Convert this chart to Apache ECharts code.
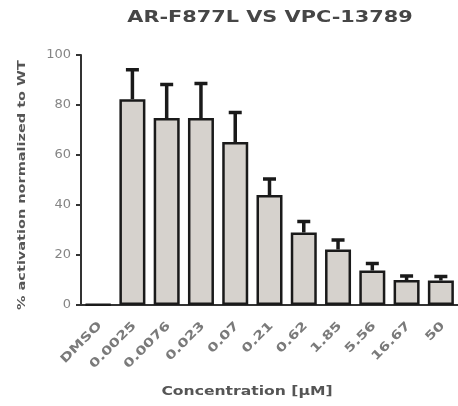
<!DOCTYPE html>
<html>
<head>
<meta charset="utf-8">
<script src="https://cdn.jsdelivr.net/npm/echarts@6/dist/echarts.min.js"></script>
<style>
  html, body { margin: 0; padding: 0; background: #fff; }
  #chart { width: 458px; height: 406px; }
</style>
</head>
<body>
<div id="chart"></div>
<script>
// Concentrations of VPC-13789 (µM), DMSO as vehicle control
const concentrations = ['DMSO', '0.0025', '0.0076', '0.023', '0.07', '0.21', '0.62', '1.85', '5.56', '16.67', '50'];
// Mean % activation normalized to WT
const activation = [0.3, 82.3, 74.8, 74.8, 65.2, 44.0, 29.0, 22.2, 13.8, 10.0, 9.8];
// Upper error (SD) above the mean
const errorUp = [0, 11.8, 13.4, 13.8, 11.8, 6.4, 4.4, 3.8, 2.8, 1.6, 1.6];
const yTicks = [0, 20, 40, 60, 80, 100];

const chartTitle = 'AR-F877L VS VPC-13789';
const xTitle = 'Concentration [µM]';
const yTitle = '% activation normalized to WT';

const chart = echarts.init(document.getElementById('chart'));

const errData = concentrations.map((c, i) => [i, activation[i], activation[i] + errorUp[i]]);

// wide, stretched bold lettering
function stretchedText(text, x, y, size, stretch, color, rotation, align) {
  return {
    type: 'text',
    x: x, y: y,
    rotation: rotation || 0,
    scaleX: stretch,
    style: {
      text: text,
      fontFamily: 'DejaVu Sans',
      fontWeight: 'bold',
      fontSize: size,
      fill: color,
      align: align || 'center',
      verticalAlign: 'middle'
    }
  };
}

const headings = [
  stretchedText(chartTitle, 270, 18, 16, 1.3, '#464646'),
  stretchedText(xTitle, 247, 392, 12, 1.3, '#555555'),
  stretchedText(yTitle, 22, 185, 10.5, 1.38, '#555555', Math.PI / 2)
];

chart.setOption({
  animation: false,
  backgroundColor: '#ffffff',
  graphic: headings,
  grid: { left: 81, top: 55, width: 384, height: 250, containLabel: false },
  xAxis: {
    type: 'category',
    data: concentrations,
    axisLine: { lineStyle: { color: '#333', width: 2 } },
    axisTick: { alignWithLabel: true, length: 5, lineStyle: { color: '#333', width: 2 } },
    axisLabel: { show: false }
  },
  yAxis: {
    type: 'value',
    min: 0,
    max: 100,
    interval: 20,
    splitLine: { show: false },
    axisLine: { show: true, lineStyle: { color: '#333', width: 2 } },
    axisTick: { show: true, length: 5, lineStyle: { color: '#333', width: 2 } },
    axisLabel: {
      margin: 10,
      fontFamily: 'DejaVu Sans',
      fontSize: 13,
      color: '#858585',
      formatter: v => yTicks.includes(v) ? String(v) : ''
    }
  },
  series: [
    {
      type: 'custom',
      z: 1,
      data: errData,
      renderItem: (params, api) => {
        const i = api.value(0);
        const top = api.coord([i, api.value(2)]);
        const base = api.coord([i, api.value(1)]);
        if (api.value(2) - api.value(1) <= 0) return null;
        const half = 6.5;
        return {
          type: 'group',
          children: [
            { type: 'line', shape: { x1: top[0], y1: top[1], x2: base[0], y2: base[1] },
              style: { stroke: '#1a1a1a', lineWidth: 3.5 } },
            { type: 'line', shape: { x1: top[0] - half, y1: top[1], x2: top[0] + half, y2: top[1] },
              style: { stroke: '#1a1a1a', lineWidth: 3.5 } }
          ]
        };
      }
    },
    {
      type: 'bar',
      z: 2,
      data: activation,
      barWidth: 26,
      itemStyle: { color: '#d6d2cd', borderColor: '#1a1a1a', borderWidth: 2.5 }
    }
  ]
});

// slanted, letter-stretched category labels placed under each tick
const baseY = chart.convertToPixel({ yAxisIndex: 0 }, 0);
const tickLabels = concentrations.map((c, i) => {
  const x = chart.convertToPixel({ xAxisIndex: 0 }, i);
  return stretchedText(c, x + 2, baseY + 19, 12, 1.3, '#7a7a7a', Math.PI / 4, 'right');
});
chart.setOption({ graphic: headings.concat(tickLabels) });
</script>
</body>
</html>
